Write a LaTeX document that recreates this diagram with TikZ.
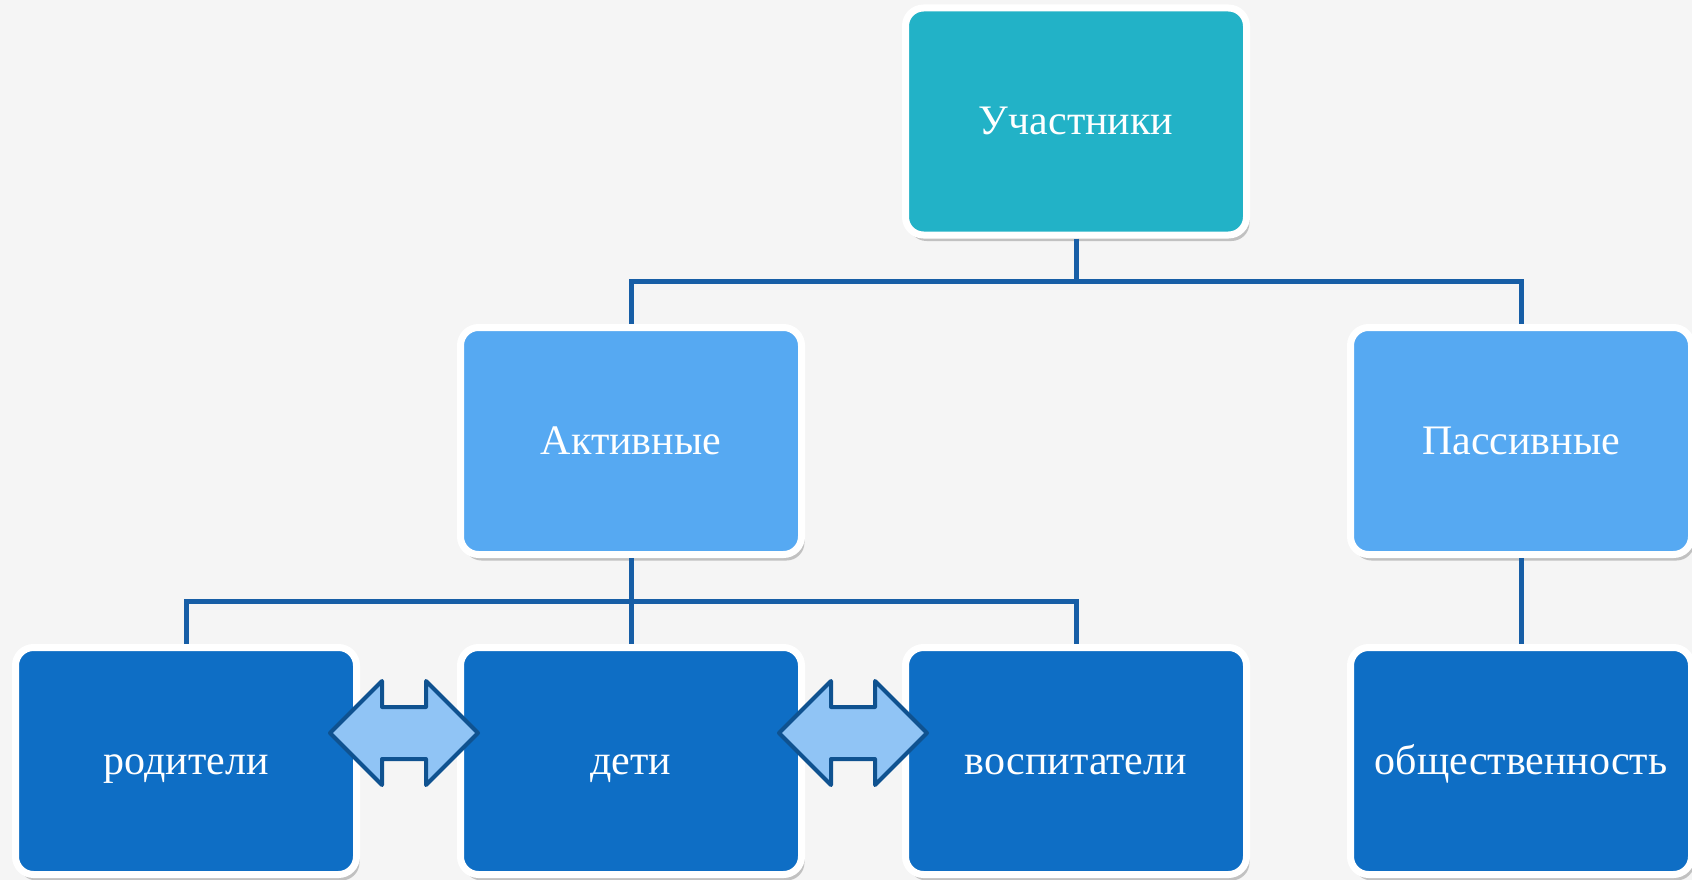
\documentclass[tikz,border=0pt]{standalone}
\usepackage{fontspec}
\setmainfont{Liberation Serif}
\usetikzlibrary{shadows,shapes.arrows}
\definecolor{bgc}{HTML}{F5F5F5}
\definecolor{topc}{HTML}{22B2C7}
\definecolor{midc}{HTML}{56A9F2}
\definecolor{botc}{HTML}{0E6EC5}
\definecolor{linec}{HTML}{175EA6}
\definecolor{arrf}{HTML}{90C4F5}
\definecolor{arrd}{HTML}{0F5290}
\tikzset{
  box/.style={draw=white, line width=7pt, rounded corners=18pt, minimum width=341pt, minimum height=227pt,
    inner sep=0pt, text=white, font=\fontsize{42}{50}\selectfont, text height=37pt, text depth=10pt,
    drop shadow={shadow xshift=3pt, shadow yshift=-6pt, opacity=0.3, fill=black!70}},
  topbox/.style={box, fill=topc},
  midbox/.style={box, fill=midc},
  botbox/.style={box, fill=botc},
  conn/.style={draw=linec, line width=5pt},
  dblarrow/.style={double arrow, double arrow head extend=26pt, inner xsep=0pt, inner ysep=24pt,
    minimum height=148pt, fill=arrf, draw=arrd, line width=4pt, line join=round}
}
\begin{document}
\begin{tikzpicture}[x=1pt,y=-1pt]
\fill[bgc] (0,0) rectangle (1692,880);
\useasboundingbox (0,0) rectangle (1692,880);
\coordinate (j1) at (1076,281);
\coordinate (j2) at (631,601);
\node[topbox] (top) at (1076,121.5) {Участники};
\node[midbox] (act) at (631,441) {Активные};
\node[midbox] (pas) at (1521,441) {Пассивные};
\node[botbox] (rod) at (186,761) {родители};
\node[botbox] (det) at (631,761) {дети};
\node[botbox] (vos) at (1076,761) {воспитатели};
\node[botbox] (obs) at (1521,761) {общественность};
\draw[conn] (top.south) -- (j1) -| (act.north);
\draw[conn] (j1) -| (pas.north);
\draw[conn] (act.south) -- (det.north);
\draw[conn] (j2) -| (rod.north);
\draw[conn] (j2) -| (vos.north);
\draw[conn] (pas.south) -- (obs.north);
\node[dblarrow] (a1) at (404,733) {};
\node[dblarrow] (a2) at (853,733) {};
\end{tikzpicture}
\end{document}
